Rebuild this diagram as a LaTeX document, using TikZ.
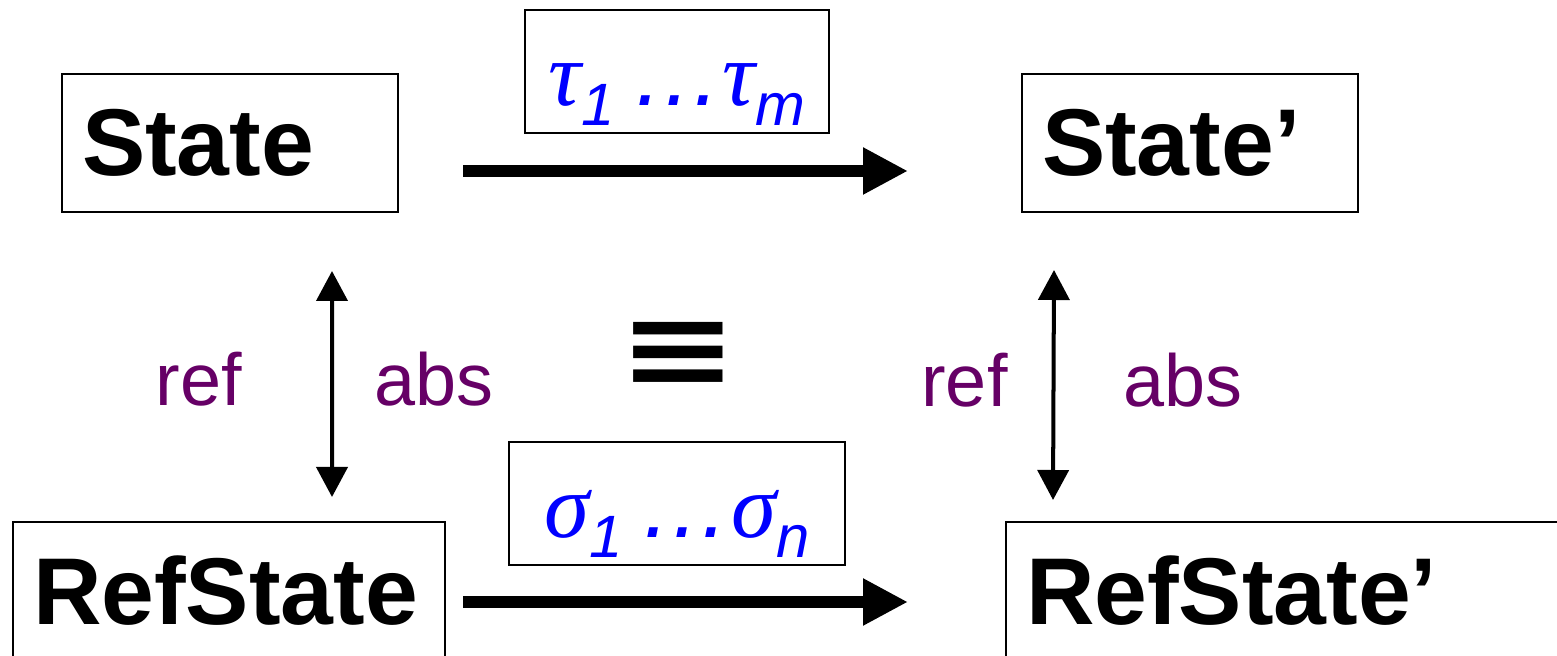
\documentclass[tikz,border=0pt]{standalone}
\usepackage{graphicx}
\usepackage{fontspec}
\setmainfont{Liberation Sans}
\newfontfamily\greekfont{Liberation Serif}
\newfontfamily\symfont{DejaVu Sans}
\usetikzlibrary{positioning,arrows.meta}
\definecolor{stpurple}{HTML}{660066}
\definecolor{stblue}{HTML}{0000FF}
\newcommand{\seqsym}[2]{{\greekfont\itshape #1}\raisebox{-0.2cm}{\fontsize{17}{18}\selectfont\itshape #2}}

\begin{document}
\begin{tikzpicture}[
  statebox/.style={draw, line width=0.57pt, anchor=north west, inner xsep=0.2cm, minimum height=1.38cm, align=left, font=\fontsize{27}{32}\selectfont\bfseries},
  seqbox/.style={draw, line width=0.57pt, inner sep=0pt, text height=0.96cm, text depth=0.27cm, text=stblue, font=\fontsize{26}{30}\selectfont},
  relbl/.style={text=stpurple, inner sep=0pt, yshift=0.05cm, font=\fontsize{21}{25}\selectfont},
  steparr/.style={-{Triangle[length=0.45cm,width=0.44cm]}, line width=3.4pt},
  maparr/.style={{Triangle[length=0.3cm,width=0.31cm]}-{Triangle[length=0.3cm,width=0.31cm]}, line width=1.14pt}]
\clip (0,0) rectangle (15.57,6.56);
\node[statebox, text width=2.96cm] (state) at (0.61,5.83) {State};
\node[statebox, text width=2.96cm] (statep) at (10.21,5.83) {State'};
\node[statebox, text width=3.92cm] (ref) at (0.12,1.35) {RefState};
\node[statebox, text width=5.6cm] (refp) at (10.05,1.35) {RefState'};
% transition sequences
\node[seqbox, minimum width=3.04cm] (tau) at (6.77,5.845) {\seqsym{τ}{1}\hspace{0.17cm}\textit{…}\seqsym{τ}{m}};
\node[seqbox, minimum width=3.36cm] (sigma) at (6.77,1.525) {\seqsym{σ}{1}\hspace{0.17cm}\textit{…}\seqsym{σ}{n}};
\draw[steparr] ([xshift=0.64cm,yshift=-0.28cm]state.east) -- ([xshift=-1.13cm,yshift=-0.28cm]statep.west);
\draw[steparr] ([xshift=0.17cm,yshift=-0.11cm]ref.east) -- ([xshift=-0.97cm,yshift=-0.11cm]refp.west);
% refinement / abstraction
\draw[maparr] ([xshift=1.02cm,yshift=-0.58cm]state.south) -- node[relbl, left=0.88cm]{ref} node[relbl, right=0.40cm]{abs} ([xshift=1.03cm,yshift=0.24cm]ref.north);
\draw[maparr] ([xshift=-1.36cm,yshift=-0.57cm]statep.south) -- node[relbl, left=0.44cm]{ref} node[relbl, right=0.68cm]{abs} ([xshift=0.48cm,yshift=0.21cm]refp.north west);
\node[font=\symfont\bfseries\fontsize{31}{36}\selectfont] (equiv) at (6.78,3.02) {\scalebox{1.31}[1]{≡}};
\end{tikzpicture}
\end{document}
